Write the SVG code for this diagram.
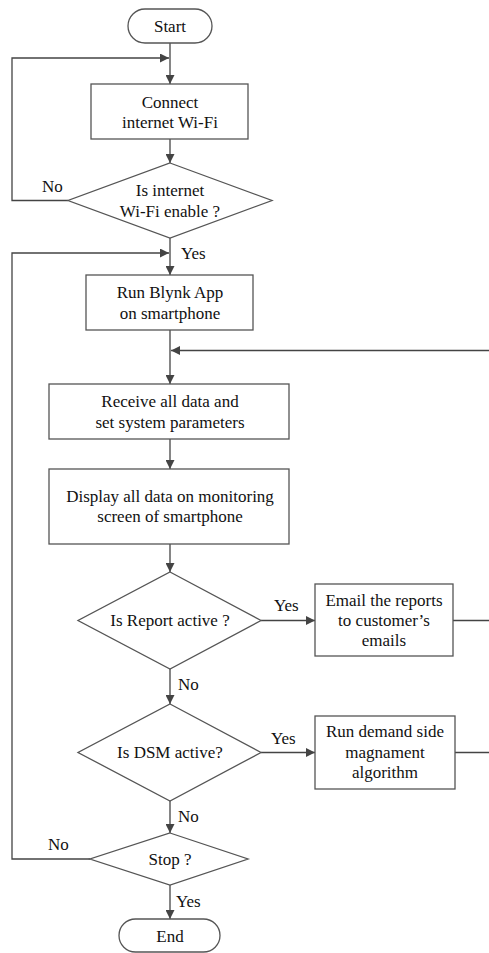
<svg xmlns="http://www.w3.org/2000/svg" width="489" height="953" viewBox="0 0 489 953">
<style>
.s{fill:#fff;stroke:#555;stroke-width:1.3}
.c{fill:none;stroke:#444;stroke-width:1.3}
text{font-family:"Liberation Serif","Times New Roman",serif;font-size:17px;fill:#111;text-anchor:middle}
.l{text-anchor:start}
</style>
<defs>
<marker id="a" viewBox="0 0 10 10" refX="10" refY="5" markerWidth="9" markerHeight="9" markerUnits="userSpaceOnUse" orient="auto">
<path d="M0,0 L10,5 L0,10 Z" fill="#444"/>
</marker>
</defs>
<rect width="489" height="953" fill="#fff"/>
<g id="connectors">
<path class="c" d="M170,43 V84" marker-end="url(#a)"/>
<path class="c" d="M68,200.5 H12 V58 H169" marker-end="url(#a)"/>
<path class="c" d="M170,139 V163" marker-end="url(#a)"/>
<path class="c" d="M170,238 V275" marker-end="url(#a)"/>
<path class="c" d="M90,859 H12 V253 H169" marker-end="url(#a)"/>
<path class="c" d="M170,330 V384" marker-end="url(#a)"/>
<path class="c" d="M170,439 V469" marker-end="url(#a)"/>
<path class="c" d="M170,544 V572" marker-end="url(#a)"/>
<path class="c" d="M261,620.5 H315" marker-end="url(#a)"/>
<path class="c" d="M453,620.5 H492 V350.5 H171" marker-end="url(#a)"/>
<path class="c" d="M170,669 V704" marker-end="url(#a)"/>
<path class="c" d="M261,752.5 H315" marker-end="url(#a)"/>
<path class="c" d="M455,752.5 H492 V350.5"/>
<path class="c" d="M170,801 V833" marker-end="url(#a)"/>
<path class="c" d="M170,885 V919" marker-end="url(#a)"/>
<text class="l" x="42" y="192">No</text>
<text class="l" x="181" y="259">Yes</text>
<text class="l" x="274" y="611">Yes</text>
<text class="l" x="178" y="690">No</text>
<text class="l" x="271" y="744">Yes</text>
<text class="l" x="178" y="822">No</text>
<text class="l" x="48" y="850">No</text>
<text class="l" x="176" y="907">Yes</text>
</g>
<g id="start">
<rect class="s" x="128" y="9" width="84" height="34" rx="17"/>
<text x="170" y="32">Start</text>
</g>
<g id="connect">
<rect class="s" x="91" y="84" width="157" height="55"/>
<text x="170" y="108">Connect</text>
<text x="170" y="128">internet Wi-Fi</text>
</g>
<g id="wifi">
<polygon class="s" points="170,163 272,200.5 170,238 68,200.5"/>
<text x="170" y="196">Is internet</text>
<text x="170" y="217">Wi-Fi enable ?</text>
</g>
<g id="blynk">
<rect class="s" x="86" y="275" width="167" height="55"/>
<text x="170" y="298">Run Blynk App</text>
<text x="170" y="319">on smartphone</text>
</g>
<g id="receive">
<rect class="s" x="49" y="384" width="240" height="55"/>
<text x="170" y="407">Receive all data and</text>
<text x="170" y="428">set system parameters</text>
</g>
<g id="display">
<rect class="s" x="49" y="469" width="240" height="75"/>
<text x="170" y="502">Display all data on monitoring</text>
<text x="170" y="522">screen of smartphone</text>
</g>
<g id="report">
<polygon class="s" points="170,572 261,620.5 170,669 78,620.5"/>
<text x="170" y="626">Is Report active ?</text>
</g>
<g id="email">
<rect class="s" x="315" y="584" width="138" height="72"/>
<text x="384" y="606">Email the reports</text>
<text x="384" y="626">to customer’s</text>
<text x="384" y="646">emails</text>
</g>
<g id="dsm">
<polygon class="s" points="170,704 261,752.5 170,801 78,752.5"/>
<text x="170" y="758">Is DSM active?</text>
</g>
<g id="dsmalgo">
<rect class="s" x="315" y="716" width="140" height="73"/>
<text x="385" y="737">Run demand side</text>
<text x="385" y="758">magnament</text>
<text x="385" y="778">algorithm</text>
</g>
<g id="stop">
<polygon class="s" points="170,833 248,859 170,885 90,859"/>
<text x="170" y="865">Stop ?</text>
</g>
<g id="end">
<rect class="s" x="119" y="919" width="101" height="33" rx="16.5"/>
<text x="170" y="942">End</text>
</g>
</svg>
